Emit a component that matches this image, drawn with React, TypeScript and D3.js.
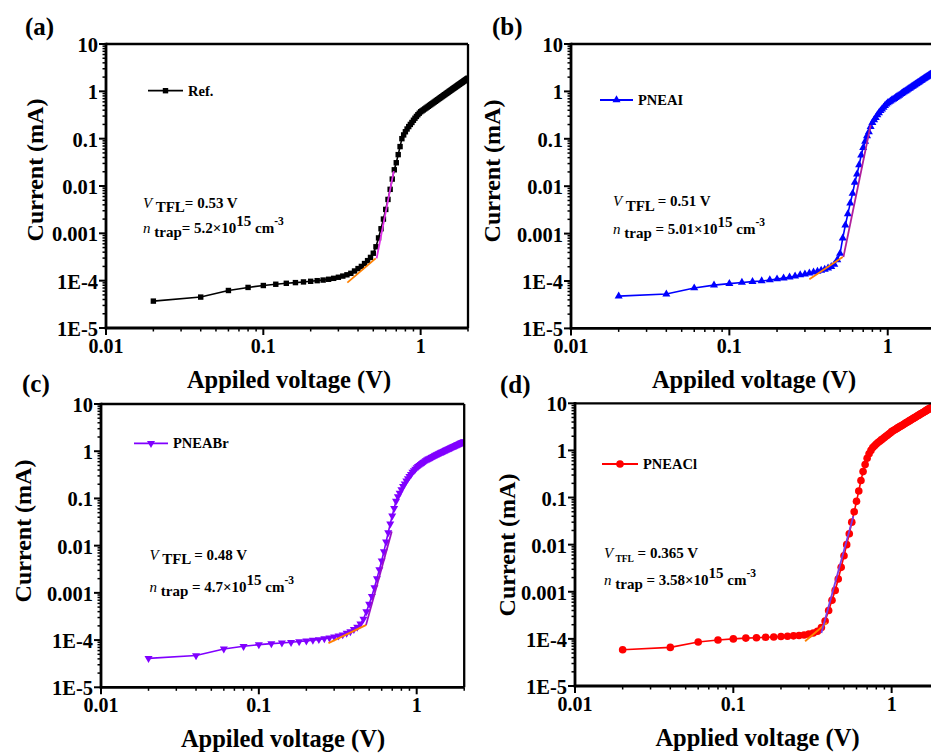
import React from "react";
import * as d3 from "d3";

// ---------------- data ----------------
const VOLTAGES: number[] = d3.range(1, 101).map((i) => +(i * 0.02).toFixed(2));

const REF_CURRENT = [
  3.7e-5, 4.5e-5, 6.2e-5, 7.2e-5, 7.9e-5, 8.4e-5, 8.8e-5, 9.1e-5, 9.4e-5, 9.7e-5,
  1.0e-4, 1.03e-4, 1.07e-4, 1.12e-4, 1.18e-4, 1.25e-4, 1.33e-4, 1.43e-4, 1.6e-4, 1.8e-4,
  2.0e-4, 2.3e-4, 2.65e-4, 3.1e-4, 3.8e-4, 5.2e-4, 8.0e-4, 1.25e-3, 2.0e-3, 3.2e-3,
  5.2e-3, 8.5e-3, 0.014, 0.022, 0.031, 0.046, 0.068, 0.1, 0.12, 0.14,
  0.16, 0.18, 0.2, 0.22, 0.245, 0.27, 0.295, 0.32, 0.345, 0.37,
  0.387, 0.405, 0.424, 0.443, 0.463, 0.483, 0.504, 0.525, 0.547, 0.569,
  0.592, 0.615, 0.639, 0.664, 0.688, 0.714, 0.74, 0.766, 0.793, 0.821,
  0.849, 0.877, 0.906, 0.936, 0.966, 0.997, 1.028, 1.06, 1.092, 1.125,
  1.158, 1.192, 1.227, 1.262, 1.297, 1.333, 1.37, 1.407, 1.445, 1.483,
  1.522, 1.561, 1.601, 1.642, 1.683, 1.725, 1.767, 1.81, 1.853, 1.897,
];

const PNEAI_CURRENT = [
  4.8e-5, 5.3e-5, 7.1e-5, 8.2e-5, 8.8e-5, 9.3e-5, 9.7e-5, 1.0e-4, 1.05e-4, 1.1e-4,
  1.15e-4, 1.2e-4, 1.27e-4, 1.34e-4, 1.4e-4, 1.47e-4, 1.53e-4, 1.6e-4, 1.68e-4, 1.76e-4,
  1.86e-4, 2.0e-4, 2.25e-4, 2.8e-4, 3.8e-4, 8.0e-4, 1.5e-3, 2.6e-3, 4.4e-3, 7.0e-3,
  0.012, 0.018, 0.028, 0.045, 0.065, 0.088, 0.115, 0.14, 0.18, 0.22,
  0.25, 0.28, 0.32, 0.35, 0.39, 0.42, 0.46, 0.5, 0.54, 0.57,
  0.596, 0.623, 0.65, 0.678, 0.706, 0.735, 0.765, 0.796, 0.827, 0.859,
  0.892, 0.925, 0.959, 0.993, 1.028, 1.064, 1.101, 1.138, 1.176, 1.215,
  1.254, 1.294, 1.334, 1.376, 1.418, 1.461, 1.504, 1.548, 1.593, 1.639,
  1.685, 1.732, 1.779, 1.827, 1.876, 1.926, 1.976, 2.027, 2.079, 2.131,
  2.184, 2.238, 2.292, 2.347, 2.403, 2.459, 2.516, 2.574, 2.633, 2.712,
];

const PNEABR_CURRENT = [
  4.1e-5, 4.7e-5, 6.5e-5, 7.4e-5, 8.0e-5, 8.4e-5, 8.7e-5, 9.0e-5, 9.3e-5, 9.6e-5,
  1.0e-4, 1.03e-4, 1.07e-4, 1.12e-4, 1.17e-4, 1.23e-4, 1.3e-4, 1.4e-4, 1.52e-4, 1.68e-4,
  1.88e-4, 2.2e-4, 2.8e-4, 4.0e-4, 5.8e-4, 8.5e-4, 1.3e-3, 2.0e-3, 3.1e-3, 4.8e-3,
  7.5e-3, 0.012, 0.019, 0.029, 0.043, 0.062, 0.088, 0.11, 0.13, 0.155,
  0.18, 0.205, 0.235, 0.265, 0.295, 0.325, 0.36, 0.39, 0.42, 0.45,
  0.48, 0.505, 0.53, 0.555, 0.58, 0.605, 0.63, 0.655, 0.678, 0.7,
  0.72, 0.742, 0.763, 0.784, 0.805, 0.826, 0.847, 0.868, 0.889, 0.91,
  0.932, 0.954, 0.976, 0.998, 1.02, 1.042, 1.064, 1.086, 1.108, 1.13,
  1.153, 1.176, 1.199, 1.222, 1.245, 1.268, 1.291, 1.314, 1.337, 1.36,
  1.384, 1.408, 1.432, 1.456, 1.48, 1.504, 1.528, 1.552, 1.576, 1.6,
];

const PNEACL_CURRENT = [
  5.9e-5, 6.6e-5, 8.6e-5, 9.5e-5, 1.0e-4, 1.04e-4, 1.06e-4, 1.08e-4, 1.1e-4, 1.12e-4,
  1.14e-4, 1.16e-4, 1.18e-4, 1.21e-4, 1.26e-4, 1.33e-4, 1.45e-4, 1.75e-4, 2.4e-4, 4.0e-4,
  6.6e-4, 1.07e-3, 1.86e-3, 3.3e-3, 5.8e-3, 0.01, 0.017, 0.03, 0.05, 0.083,
  0.138, 0.23, 0.355, 0.5, 0.68, 0.85, 1.0, 1.15, 1.26, 1.36,
  1.47, 1.57, 1.67, 1.77, 1.88, 1.99, 2.1, 2.22, 2.35, 2.5,
  2.6, 2.71, 2.82, 2.93, 3.04, 3.16, 3.27, 3.39, 3.51, 3.63,
  3.76, 3.89, 4.02, 4.15, 4.28, 4.42, 4.56, 4.7, 4.84, 4.98,
  5.13, 5.28, 5.43, 5.58, 5.74, 5.9, 6.06, 6.22, 6.39, 6.55,
  6.72, 6.89, 7.07, 7.24, 7.42, 7.6, 7.78, 7.97, 8.15, 8.34,
  8.53, 8.73, 8.92, 9.12, 9.32, 9.52, 9.73, 9.93, 10.1, 10.35,
];

// fit lines [voltage, current]
const REF_FIT_LOW: [number, number][] = [[0.342, 9.1e-5], [0.518, 2.96e-4]];
const REF_FIT_HIGH: [number, number][] = [[0.525, 2.96e-4], [0.675, 0.0206]];
const PNEAI_FIT_LOW: [number, number][] = [[0.32, 1.09e-4], [0.52, 3.2e-4]];
const PNEAI_FIT_HIGH: [number, number][] = [[0.525, 3.2e-4], [0.78, 0.195]];
const PNEABR_FIT_LOW: [number, number][] = [[0.276, 8.6e-5], [0.48, 2.1e-4]];
const PNEABR_FIT_HIGH: [number, number][] = [[0.478, 2.1e-4], [0.695, 0.02]];
const PNEACL_FIT_LOW: [number, number][] = [[0.284, 8.9e-5], [0.39, 2.2e-4]];
const PNEACL_FIT_HIGH: [number, number][] = [[0.36, 1.34e-4], [0.573, 0.04]];

const Y_TICKS = [1e-5, 1e-4, 1e-3, 1e-2, 0.1, 1, 10];
const Y_TICK_LABELS = ["1E-5", "1E-4", "0.001", "0.01", "0.1", "1", "10"];
const X_TICKS = [0.01, 0.1, 1];
const X_TICK_LABELS = ["0.01", "0.1", "1"];

// ---------------- styling / layout ----------------
const FONT = "'Liberation Serif','Times New Roman',Times,serif";

type PanelCfg = {
  key: string;
  label: string;
  labelPos: [number, number];
  box: { left: number; right: number; top: number; bottom: number };
  xTitle: string;
  xTitlePos: [number, number];
  yTitlePos: [number, number];
  name: string;
  current: number[];
  color: string;
  marker: "square" | "up" | "down" | "circle";
  legend: { x1: number; x2: number; y: number };
  fitLow: [number, number][];
  fitHigh: [number, number][];
  highColor: string;
  ann: { x: number; y1: number; y2: number; v: string; n: string; tflSize: number; tflDy: number };
};

const PANELS: PanelCfg[] = [
  {
    key: "a", label: "(a)", labelPos: [25, 35],
    box: { left: 106, right: 468, top: 44, bottom: 328 },
    xTitle: "Appiled voltage (V)", xTitlePos: [289, 388], yTitlePos: [43, 170],
    name: "Ref.", current: REF_CURRENT, color: "#000000", marker: "square",
    legend: { x1: 148, x2: 183, y: 90.7 },
    fitLow: REF_FIT_LOW, fitHigh: REF_FIT_HIGH, highColor: "#e030e8",
    ann: { x: 143, y1: 208, y2: 233, v: "= 0.53 V", n: "= 5.2×10", tflSize: 15, tflDy: 4 },
  },
  {
    key: "b", label: "(b)", labelPos: [492, 35],
    box: { left: 571, right: 935.4, top: 44, bottom: 328.4 },
    xTitle: "Appiled voltage (V)", xTitlePos: [754, 388], yTitlePos: [500, 171],
    name: "PNEAI", current: PNEAI_CURRENT, color: "#0000ff", marker: "up",
    legend: { x1: 600, x2: 633, y: 100 },
    fitLow: PNEAI_FIT_LOW, fitHigh: PNEAI_FIT_HIGH, highColor: "#b0209c",
    ann: { x: 613, y1: 206, y2: 234, v: " = 0.51 V", n: " = 5.01×10", tflSize: 15, tflDy: 4.5 },
  },
  {
    key: "c", label: "(c)", labelPos: [22, 392],
    box: { left: 101, right: 464.2, top: 404, bottom: 687.3 },
    xTitle: "Appiled voltage (V)", xTitlePos: [283, 746.5], yTitlePos: [30.5, 531],
    name: "PNEABr", current: PNEABR_CURRENT, color: "#8000ff", marker: "down",
    legend: { x1: 134, x2: 168, y: 443.3 },
    fitLow: PNEABR_FIT_LOW, fitHigh: PNEABR_FIT_HIGH, highColor: "#9a10c8",
    ann: { x: 149.5, y1: 560, y2: 591.7, v: " = 0.48 V", n: " = 4.7×10", tflSize: 15, tflDy: 4 },
  },
  {
    key: "d", label: "(d)", labelPos: [500, 393],
    box: { left: 575, right: 939.3, top: 403.3, bottom: 686 },
    xTitle: "Applied voltage (V)", xTitlePos: [757.5, 746], yTitlePos: [515, 545],
    name: "PNEACl", current: PNEACL_CURRENT, color: "#ff0000", marker: "circle",
    legend: { x1: 602, x2: 638, y: 464 },
    fitLow: PNEACL_FIT_LOW, fitHigh: PNEACL_FIT_HIGH, highColor: "#7a3ce6",
    ann: { x: 604, y1: 558.3, y2: 584.5, v: " = 0.365 V", n: " = 3.58×10", tflSize: 9.5, tflDy: 3.5 },
  },
];

function Marker({ kind, x, y, color }: { kind: string; x: number; y: number; color: string }) {
  if (kind === "square") return <rect x={x - 2.7} y={y - 2.7} width={5.4} height={5.4} fill={color} />;
  if (kind === "circle") return <circle cx={x} cy={y} r={3.8} fill={color} />;
  const path = d3.symbol().type(d3.symbolTriangle).size(28)() as string;
  const rot = kind === "down" ? 180 : 0;
  return <path d={path} transform={`translate(${x},${y}) rotate(${rot})`} fill={color} />;
}

function Panel({ p }: { p: PanelCfg }) {
  const { box } = p;
  const x = d3.scaleLog().domain([0.01, 2]).range([box.left, box.right]);
  const y = d3.scaleLog().domain([1e-5, 10]).range([box.bottom, box.top]);
  const pts: [number, number][] = VOLTAGES.map((v, i) => [v, p.current[i]]);
  const line = d3.line<[number, number]>().x((d) => x(d[0])).y((d) => y(d[1]));
  const xMinor = x.ticks().filter((t) => !X_TICKS.some((m) => Math.abs(m - t) < 1e-9));
  const yMinor = y.ticks().filter((t) => !Y_TICKS.some((m) => Math.abs(m / t - 1) < 1e-6));
  const clipId = `clip-${p.key}`;
  const a = p.ann;
  return (
    <g>
      <defs>
        <clipPath id={clipId}>
          <rect x={box.left} y={box.top - 1} width={box.right - box.left} height={box.bottom - box.top + 1} />
        </clipPath>
      </defs>
      <text x={p.labelPos[0]} y={p.labelPos[1]} fontFamily={FONT} fontWeight="bold" fontSize={25}>{p.label}</text>

      <g clipPath={`url(#${clipId})`}>
        <path d={line(pts) as string} fill="none" stroke={p.color} strokeWidth={1.6} />
        {pts.map((d, i) => (
          <Marker key={i} kind={p.marker} x={x(d[0])} y={y(d[1])} color={p.color} />
        ))}
        <path d={line(p.fitLow) as string} fill="none" stroke="#ff8000" strokeWidth={1.8} />
        <path d={line(p.fitHigh) as string} fill="none" stroke={p.highColor} strokeWidth={1.8} />
      </g>

      <line x1={box.left} x2={box.right} y1={box.top} y2={box.top} stroke="#000" strokeWidth={2.3} />
      <line x1={box.right} x2={box.right} y1={box.top} y2={box.bottom} stroke="#000" strokeWidth={2.3} />
      <line x1={box.left} x2={box.left} y1={box.top - 1.2} y2={box.bottom + 1.2} stroke="#000" strokeWidth={2.8} />
      <line x1={box.left - 1.2} x2={box.right} y1={box.bottom} y2={box.bottom} stroke="#000" strokeWidth={2.8} />

      {Y_TICKS.map((t, i) => (
        <g key={`yt${i}`}>
          <line x1={box.left - 7} x2={box.left} y1={y(t)} y2={y(t)} stroke="#000" strokeWidth={2} />
          <text x={box.left - 8} y={y(t) + 8} textAnchor="end" fontFamily={FONT} fontWeight="bold" fontSize={20.5}>
            {Y_TICK_LABELS[i]}
          </text>
        </g>
      ))}
      {yMinor.map((t, i) => (
        <line key={`ym${i}`} x1={box.left - 3.5} x2={box.left} y1={y(t)} y2={y(t)} stroke="#000" strokeWidth={1.5} />
      ))}
      {X_TICKS.map((t, i) => (
        <g key={`xt${i}`}>
          <line x1={x(t)} x2={x(t)} y1={box.bottom} y2={box.bottom + 7} stroke="#000" strokeWidth={2} />
          <text x={x(t)} y={box.bottom + 25} textAnchor="middle" fontFamily={FONT} fontWeight="bold" fontSize={20}>
            {X_TICK_LABELS[i]}
          </text>
        </g>
      ))}
      {xMinor.map((t, i) => (
        <line key={`xm${i}`} x1={x(t)} x2={x(t)} y1={box.bottom} y2={box.bottom + 3.5} stroke="#000" strokeWidth={1.5} />
      ))}

      <text x={p.xTitlePos[0]} y={p.xTitlePos[1]} textAnchor="middle" fontFamily={FONT} fontWeight="bold" fontSize={24.5}>
        {p.xTitle}
      </text>
      <text
        transform={`translate(${p.yTitlePos[0]},${p.yTitlePos[1]}) rotate(-90)`}
        textAnchor="middle" fontFamily={FONT} fontWeight="bold" fontSize={24}
      >
        Current (mA)
      </text>

      <line x1={p.legend.x1} x2={p.legend.x2} y1={p.legend.y} y2={p.legend.y} stroke={p.color} strokeWidth={1.8} />
      <Marker kind={p.marker} x={(p.legend.x1 + p.legend.x2) / 2} y={p.legend.y} color={p.color} />
      <text x={p.legend.x2 + 5} y={p.legend.y + 5} fontFamily={FONT} fontWeight="bold" fontSize={14.5}>{p.name}</text>

      <text x={a.x} y={a.y1} fontFamily={FONT} fontWeight="bold" fontSize={15}>
        <tspan fontStyle="italic" fontWeight="normal" fontSize={15}>V</tspan>
        <tspan dy={a.tflDy} fontSize={a.tflSize}>{" TFL"}</tspan>
        <tspan dy={-a.tflDy}>{a.v}</tspan>
      </text>
      <text x={a.x} y={a.y2} fontFamily={FONT} fontWeight="bold" fontSize={15}>
        <tspan fontStyle="italic" fontWeight="normal" fontSize={15}>n</tspan>
        <tspan dy={4}>{" trap"}</tspan>
        <tspan dy={-4}>{a.n}</tspan>
        <tspan dy={-7}>15</tspan>
        <tspan dy={7}>{" cm"}</tspan>
        <tspan dy={-8} fontSize={11.5}>-3</tspan>
      </text>
    </g>
  );
}

export default function App() {
  return (
    <svg
      width={931}
      height={754}
      viewBox="0 0 931 754"
      style={{ position: "absolute", left: 0, top: 0, background: "#fff" }}
    >
      <rect x={0} y={0} width={931} height={754} fill="#fff" />
      {PANELS.map((p) => (
        <Panel key={p.key} p={p} />
      ))}
    </svg>
  );
}
